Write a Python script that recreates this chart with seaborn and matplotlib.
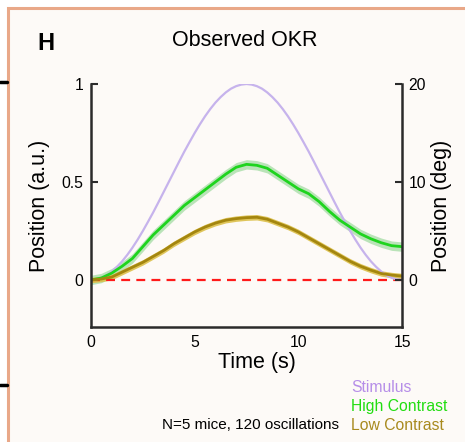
import numpy as np
import pandas as pd
import matplotlib
matplotlib.use("Agg")
import matplotlib.pyplot as plt
from matplotlib.patches import Rectangle
from matplotlib.lines import Line2D
import seaborn as sns

sns.set_theme(style="white")
plt.rcParams['font.family'] = ['Liberation Sans', 'DejaVu Sans']
plt.rcParams['text.color'] = 'black'
plt.rcParams['axes.labelcolor'] = 'black'
plt.rcParams['xtick.color'] = 'black'
plt.rcParams['ytick.color'] = 'black'

# ---- data ----
stim_time = [i * 0.25 for i in range(61)]
stimulus = [0.0, 0.003, 0.011, 0.024, 0.043, 0.067, 0.095, 0.128, 0.165, 0.206, 0.25, 0.297, 0.345, 0.396, 0.448,
            0.5, 0.552, 0.604, 0.655, 0.703, 0.75, 0.794, 0.835, 0.872, 0.905, 0.933, 0.957, 0.976, 0.989, 0.997,
            1.0,
            0.997, 0.989, 0.976, 0.957, 0.933, 0.905, 0.872, 0.835, 0.794, 0.75, 0.703, 0.655, 0.604, 0.552, 0.5,
            0.448, 0.396, 0.345, 0.297, 0.25, 0.206, 0.165, 0.128, 0.095, 0.067, 0.043, 0.024, 0.011, 0.003, 0.0]
time_s = [0.0, 0.5, 1.0, 1.5, 2.0, 2.5, 3.0, 3.5, 4.0, 4.5, 5.0, 5.5, 6.0, 6.5, 7.0, 7.5,
          8.0, 8.5, 9.0, 9.5, 10.0, 10.5, 11.0, 11.5, 12.0, 12.5, 13.0, 13.5, 14.0, 14.5, 15.0]
high_contrast = [0.0, 0.01, 0.035, 0.07, 0.11, 0.17, 0.23, 0.28, 0.33, 0.38, 0.42, 0.46, 0.50, 0.54, 0.575, 0.59,
                 0.585, 0.57, 0.535, 0.50, 0.465, 0.44, 0.40, 0.35, 0.305, 0.27, 0.235, 0.21, 0.19, 0.175, 0.17]
low_contrast = [0.0, 0.005, 0.015, 0.04, 0.065, 0.09, 0.12, 0.15, 0.185, 0.215, 0.245, 0.27, 0.29, 0.305, 0.313, 0.318,
                0.32, 0.31, 0.29, 0.27, 0.245, 0.215, 0.185, 0.155, 0.125, 0.095, 0.07, 0.05, 0.033, 0.025, 0.02]
high_sem = 0.024
low_sem = 0.014

x_ticks = [0, 5, 10, 15]
y_ticks = [0, 0.5, 1]
y_tick_labels = ["0", "0.5", "1"]
deg_ticks = [0, 10, 20]
legend_labels = ["Stimulus", "High Contrast", "Low Contrast"]

df = pd.DataFrame({"t": time_s, "high": high_contrast, "low": low_contrast})
df_stim = pd.DataFrame({"t": stim_time, "stim": stimulus})

W, H = 465, 442
fig = plt.figure(figsize=(W / 100, H / 100), dpi=100)
fig.patch.set_facecolor("white")

# panel frame
fig.patches.append(Rectangle((8 / W, -0.1), 1.2, 1.1 - 8 / H, transform=fig.transFigure,
                             facecolor="#fdfaf7", edgecolor="#e9a888", lw=2.2, zorder=-5))
for yy in [82, 385]:
    fig.lines.append(Line2D([0, 7 / W], [1 - yy / H, 1 - yy / H], transform=fig.transFigure,
                            color="black", lw=2.5, zorder=-4))

ax = fig.add_axes([91 / W, 1 - 327 / H, (402 - 91) / W, (327 - 84) / H])
ax.set_facecolor("none")

lw_spine = 1.8
spc = "#2b2b2b"

ax.fill_between(df["t"], df["high"] - high_sem, df["high"] + high_sem, color="#a9dea9", alpha=0.8, lw=0)
ax.fill_between(df["t"], df["low"] - low_sem, df["low"] + low_sem, color="#dcc04a", alpha=0.9, lw=0)
ax.plot([0, 15], [0, 0], color="#ff1a1a", lw=1.6, dashes=(4, 2.8), zorder=1)
sns.lineplot(data=df_stim, x="t", y="stim", ax=ax, color="#c6b3ec", lw=1.6)
sns.lineplot(data=df, x="t", y="high", ax=ax, color="#1ed41e", lw=2.0)
sns.lineplot(data=df, x="t", y="low", ax=ax, color="#a4860f", lw=2.0)

ax.set_xlim(0, 15)
ax.set_ylim(-0.24, 1)
ax.set_xticks(x_ticks)
ax.set_xticklabels([str(v) for v in x_ticks])
ax.set_yticks(y_ticks)
ax.set_yticklabels(y_tick_labels)
ax.tick_params(direction="in", length=5, width=1.5, color=spc, labelsize=11.3, pad=5.5)
for s in ["top", "right"]:
    ax.spines[s].set_visible(False)
for s in ["left", "bottom"]:
    ax.spines[s].set_linewidth(lw_spine)
    ax.spines[s].set_color(spc)
ax.set_xlabel("Time (s)", fontsize=15.5)
ax.xaxis.set_label_coords((257 - 91) / 311, (327 - 352) / 243)
ax.set_ylabel("Position (a.u.)", fontsize=15.5)
ax.yaxis.set_label_coords((50 - 91) / 311, 0.5)

ax2 = ax.twinx()
ax2.set_ylim(-4.8, 20)
ax2.set_yticks(deg_ticks)
ax2.set_yticklabels([str(v) for v in deg_ticks])
ax2.tick_params(direction="in", length=5, width=1.5, color=spc, labelsize=11.3, pad=4.5)
for s in ["top", "left", "bottom"]:
    ax2.spines[s].set_visible(False)
ax2.spines["right"].set_linewidth(lw_spine)
ax2.spines["right"].set_color(spc)
ax2.set_ylabel("Position (deg)", fontsize=15.5)
ax2.yaxis.set_label_coords((431 - 91) / 311, 0.5)

fig.text(37 / W, 1 - 43 / H, "H", fontsize=17, fontweight="bold", ha="left", va="center")
fig.text(245 / W, 1 - 40 / H, "Observed OKR", fontsize=15.5, ha="center", va="center")
fig.text(339 / W, 1 - 425 / H, "N=5 mice, 120 oscillations", fontsize=11, ha="right", va="center")
leg_colors = ["#b68ee8", "#22dd11", "#a88a1e"]
for i, (lab, c) in enumerate(zip(legend_labels, leg_colors)):
    fig.text(351 / W, 1 - (387 + 19.5 * i) / H, lab, fontsize=11.3, color=c, ha="left", va="center")

fig.savefig("out.png", dpi=100)
